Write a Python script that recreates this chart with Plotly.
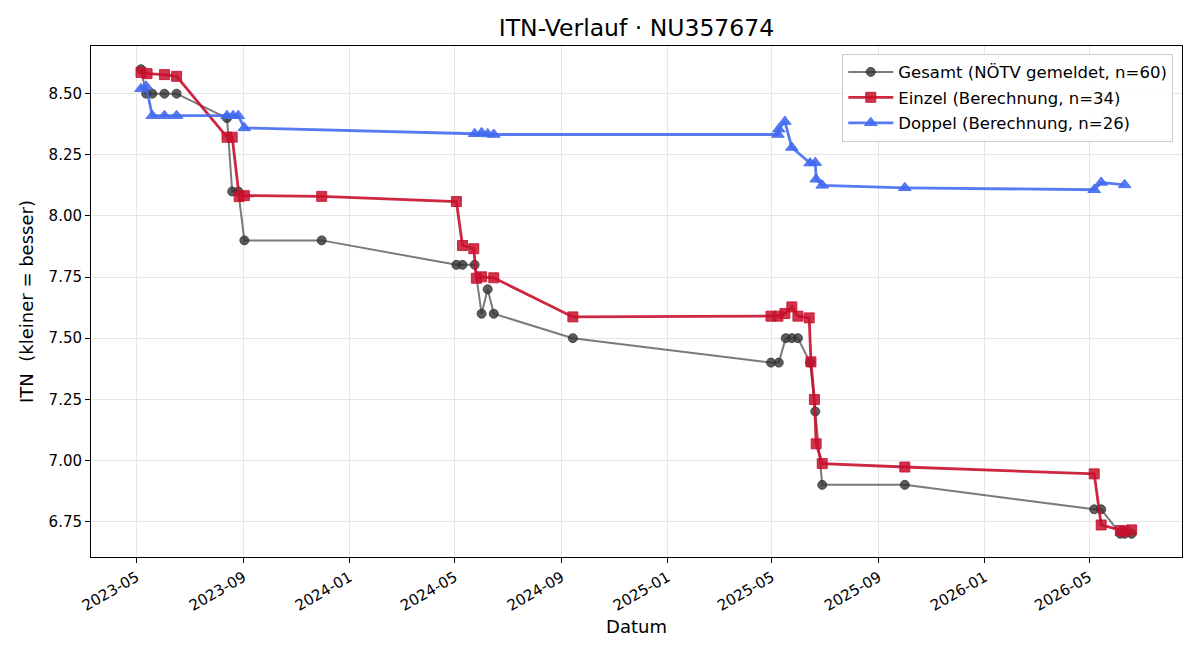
import plotly.graph_objects as go

# ---- data ----
gesamt_dates = ["2023-05-06", "2023-05-12", "2023-05-19", "2023-06-02", "2023-06-16",
                "2023-08-13", "2023-08-19", "2023-08-26", "2023-09-02", "2023-11-30",
                "2024-05-03", "2024-05-10", "2024-05-24", "2024-06-01", "2024-06-08",
                "2024-06-15", "2024-09-14", "2025-04-30", "2025-05-09", "2025-05-17",
                "2025-05-24", "2025-05-31", "2025-06-14", "2025-06-20", "2025-06-28",
                "2025-10-01", "2026-05-07", "2026-05-15", "2026-06-06", "2026-06-11",
                "2026-06-19"]
gesamt_vals = [8.60, 8.50, 8.50, 8.50, 8.50,
               8.40, 8.10, 8.10, 7.90, 7.90,
               7.80, 7.80, 7.80, 7.60, 7.70,
               7.60, 7.50, 7.40, 7.40, 7.50,
               7.50, 7.50, 7.40, 7.20, 6.90,
               6.90, 6.80, 6.80, 6.70, 6.70,
               6.70]

einzel_dates = ["2023-05-06", "2023-05-13", "2023-06-02", "2023-06-16", "2023-08-13",
                "2023-08-19", "2023-08-27", "2023-09-02", "2023-11-30", "2024-05-03",
                "2024-05-10", "2024-05-23", "2024-05-26", "2024-06-01", "2024-06-15",
                "2024-09-14", "2025-04-30", "2025-05-08", "2025-05-16", "2025-05-24",
                "2025-05-31", "2025-06-13", "2025-06-15", "2025-06-19", "2025-06-21",
                "2025-06-28", "2025-10-01", "2026-05-07", "2026-05-15", "2026-06-06",
                "2026-06-11", "2026-06-19"]
einzel_vals = [8.587, 8.582, 8.578, 8.571, 8.322,
               8.322, 8.079, 8.083, 8.080, 8.059,
               7.879, 7.866, 7.745, 7.751, 7.747,
               7.587, 7.590, 7.590, 7.601, 7.628,
               7.590, 7.583, 7.403, 7.249, 7.068,
               6.987, 6.973, 6.945, 6.736, 6.713,
               6.710, 6.716]

doppel_dates = ["2023-05-06", "2023-05-12", "2023-05-19", "2023-06-02", "2023-06-16",
                "2023-08-13", "2023-08-20", "2023-08-26", "2023-09-02", "2024-05-24",
                "2024-06-01", "2024-06-08", "2024-06-15", "2025-05-08", "2025-05-09",
                "2025-05-16", "2025-05-24", "2025-06-14", "2025-06-20", "2025-06-21",
                "2025-06-28", "2025-10-01", "2026-05-07", "2026-05-15", "2026-06-11"]
doppel_vals = [8.52, 8.53, 8.41, 8.41, 8.41,
               8.41, 8.41, 8.41, 8.36, 8.336,
               8.340, 8.335, 8.333, 8.333, 8.355,
               8.386, 8.28, 8.216, 8.218, 8.15,
               8.125, 8.115, 8.107, 8.137, 8.127]

x_ticks = ["2023-05-01", "2023-09-01", "2024-01-01", "2024-05-01", "2024-09-01",
           "2025-01-01", "2025-05-01", "2025-09-01", "2026-01-01", "2026-05-01"]
x_tick_labels = ["2023-05", "2023-09", "2024-01", "2024-05", "2024-09",
                 "2025-01", "2025-05", "2025-09", "2026-01", "2026-05"]
y_ticks = [6.75, 7.00, 7.25, 7.50, 7.75, 8.00, 8.25, 8.50]

FONT = "DejaVu Sans"

fig = go.Figure()
fig.add_trace(go.Scatter(
    x=gesamt_dates, y=gesamt_vals, mode="lines+markers",
    name="Gesamt (NÖTV gemeldet, n=60)", legendgroup="g",
    line=dict(color="rgba(51,51,51,0.65)", width=2),
    marker=dict(symbol="circle", size=9, color="rgba(51,51,51,0.8)",
                line=dict(color="rgba(51,51,51,0.8)", width=1)),
))
fig.add_trace(go.Scatter(
    x=einzel_dates, y=einzel_vals, mode="lines+markers",
    name="Einzel (Berechnung, n=34)", legendgroup="e",
    line=dict(color="rgba(200,16,46,0.9)", width=2.8),
    marker=dict(symbol="square", size=10, color="rgba(200,16,46,0.85)",
                line=dict(color="rgba(200,16,46,0.85)", width=1)),
))
fig.add_trace(go.Scatter(
    x=doppel_dates, y=doppel_vals, mode="lines+markers",
    name="Doppel (Berechnung, n=26)", legendgroup="d",
    line=dict(color="rgba(65,105,240,0.88)", width=2.8),
    marker=dict(symbol="triangle-up", size=11, color="rgba(65,105,240,0.88)",
                line=dict(color="rgba(65,105,240,0.88)", width=1)),
))

fig.update_layout(
    width=1200, height=660,
    margin=dict(l=91, r=18, t=46, b=103),
    paper_bgcolor="white", plot_bgcolor="white",
    font=dict(family=FONT, color="black", size=15),
    title=dict(text="ITN-Verlauf · NU357674", x=0.5, xref="paper", xanchor="center",
               y=1 - 28 / 660, yanchor="middle",
               font=dict(family=FONT, size=23.5, color="black")),
    showlegend=True,
    legend=dict(x=0.992, y=0.985, xanchor="right", yanchor="top",
                bgcolor="rgba(255,255,255,0.85)", bordercolor="#cccccc", borderwidth=1,
                font=dict(family=FONT, size=16.5, color="black"),
                itemwidth=45, tracegroupgap=1),
)
fig.update_xaxes(
    type="date", range=["2023-03-09 12:00", "2026-08-16"],
    tickvals=x_ticks, ticktext=x_tick_labels, tickangle=-30,
    ticks="outside", ticklen=5, tickwidth=1, tickcolor="black",
    showline=True, linecolor="black", linewidth=1, mirror=True,
    showgrid=True, gridcolor="#e6e6e6", gridwidth=1, zeroline=False,
    tickfont=dict(family=FONT, size=15),
    title=dict(text="Datum", font=dict(family=FONT, size=18), standoff=6),
)
fig.update_yaxes(
    range=[6.605, 8.695], tickvals=y_ticks, tickformat=".2f",
    ticks="outside", ticklen=5, tickwidth=1, tickcolor="black",
    showline=True, linecolor="black", linewidth=1, mirror=True,
    showgrid=True, gridcolor="#e6e6e6", gridwidth=1, zeroline=False,
    tickfont=dict(family=FONT, size=15),
    title=dict(text="ITN\u00a0 (kleiner = besser)", font=dict(family=FONT, size=18), standoff=10),
)

fig.write_html("out.html")
